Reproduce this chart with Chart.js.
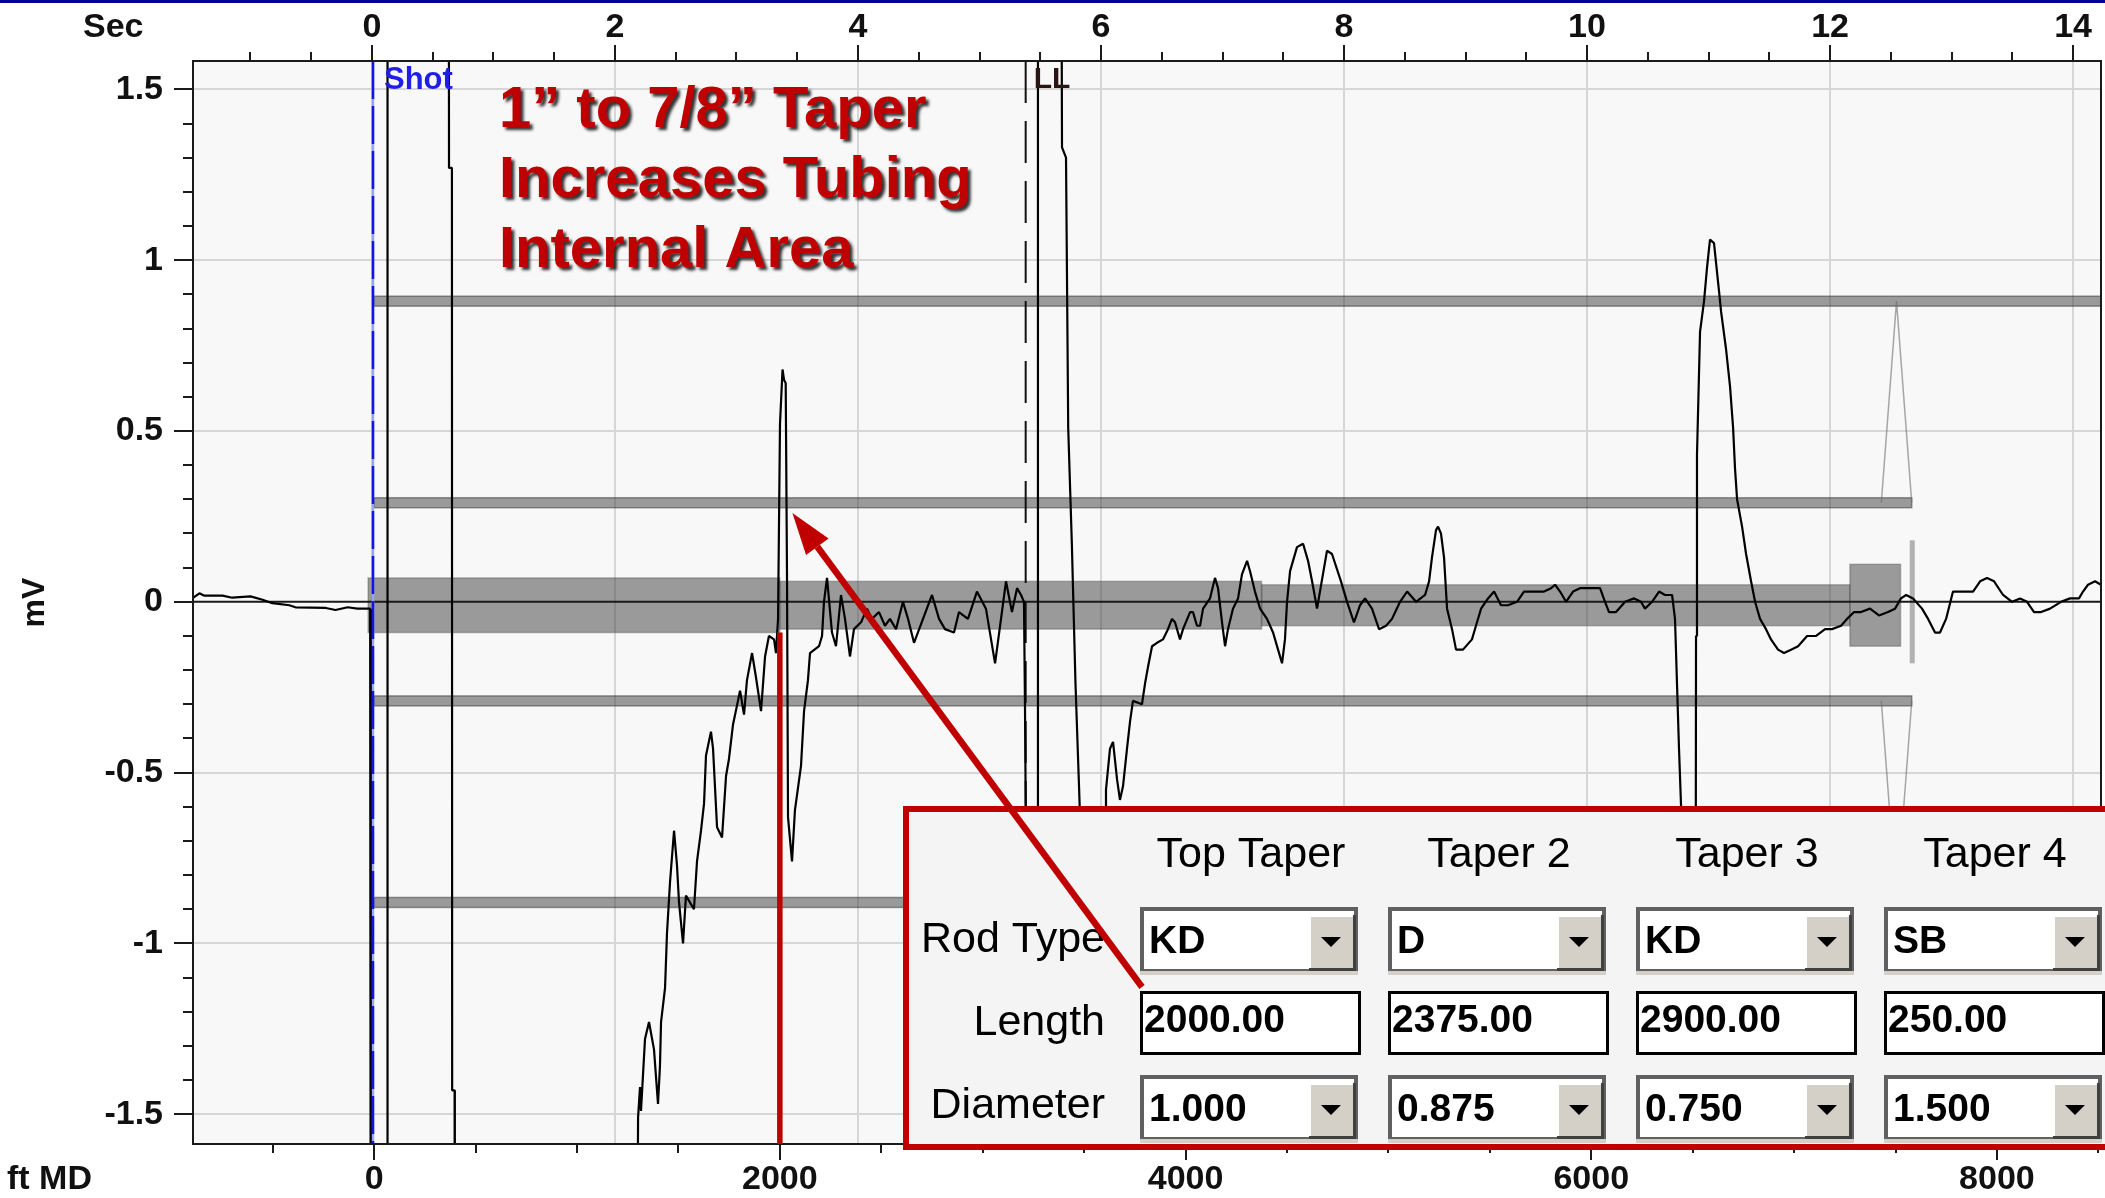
<!DOCTYPE html>
<html lang="en">
<head>
<meta charset="UTF-8">
<title>Acoustic Trace - Rod Taper</title>
<script src="https://cdn.jsdelivr.net/npm/chart.js"></script>
<style>
  html, body { margin: 0; padding: 0; background: #ffffff; }
  #wrap { width: 2105px; height: 1198px; }
</style>
</head>
<body>
<div id="wrap"><canvas id="myChart" width="2105" height="1198"></canvas></div>
<script>
// acoustic trace: time after shot (s) and receiver signal (mV)
const timeSec = [
  -1.47, -1.42, -1.38, -1.23, -1.15, -1.0, -0.9, -0.82, -0.68, -0.63, -0.38, -0.3, -0.2, -0.12, -0.03, -0.015, -0.01,
  0.125, 0.128, 0.632, 0.634, 0.658, 0.66, 0.68, 0.682, 2.18,
  2.19, 2.206, 2.214, 2.247, 2.28, 2.321, 2.354, 2.37, 2.379, 2.412, 2.428, 2.453, 2.486, 2.51, 2.527, 2.56, 2.584,
  2.65, 2.675, 2.708, 2.733, 2.749, 2.79, 2.807, 2.84, 2.881, 2.914, 2.938, 2.971, 3.012, 3.029, 3.062, 3.086,
  3.128, 3.16, 3.202, 3.235, 3.267, 3.309, 3.325, 3.342, 3.358, 3.379, 3.391, 3.405, 3.416, 3.424, 3.457, 3.481,
  3.531, 3.556, 3.588, 3.605, 3.679, 3.704, 3.72, 3.745, 3.786, 3.819, 3.86, 3.893, 3.934, 3.967, 4.025, 4.074,
  4.115, 4.173, 4.222, 4.263, 4.313, 4.37, 4.412, 4.461, 4.535, 4.609, 4.667, 4.716, 4.79, 4.831, 4.905, 4.979,
  5.053, 5.128, 5.177, 5.218, 5.267, 5.309, 5.342, 5.366, 5.374, 5.383, 5.39,
  5.476, 5.481, 5.672, 5.679, 5.712, 5.73, 5.76, 5.79, 5.82, 5.86, 5.95, 6.02,
  6.033, 6.041, 6.074, 6.099, 6.132, 6.156, 6.181, 6.214, 6.239, 6.263, 6.337, 6.362, 6.387, 6.42, 6.461, 6.51,
  6.551, 6.584, 6.609, 6.65, 6.675, 6.733, 6.757, 6.79, 6.815, 6.84, 6.897, 6.938, 6.963, 6.996, 7.021, 7.045,
  7.086, 7.128, 7.16, 7.202, 7.226, 7.267, 7.309, 7.366, 7.416, 7.457, 7.49, 7.514, 7.531, 7.556, 7.613, 7.663,
  7.704, 7.737, 7.778, 7.802, 7.86, 7.901, 7.975, 8.025, 8.082, 8.132, 8.173, 8.23, 8.288, 8.346, 8.395, 8.461,
  8.519, 8.593, 8.667, 8.7, 8.724, 8.757, 8.774, 8.798, 8.823, 8.848, 8.889, 8.922, 8.979, 9.053, 9.086, 9.128,
  9.185, 9.235, 9.292, 9.35, 9.424, 9.481, 9.556, 9.605, 9.646, 9.704, 9.737, 9.778, 9.827, 9.885, 9.942, 10.016,
  10.107, 10.148, 10.181, 10.239, 10.313, 10.387, 10.444, 10.477, 10.535, 10.593, 10.642, 10.7, 10.724, 10.757,
  10.774, 10.78, 10.89, 10.897, 10.905, 10.93, 10.963, 10.988, 11.012, 11.045, 11.086, 11.103, 11.144, 11.177,
  11.202, 11.218, 11.235, 11.276, 11.309, 11.35, 11.383, 11.424, 11.473, 11.514, 11.572, 11.621, 11.679, 11.737,
  11.811, 11.885, 11.959, 12.016, 12.091, 12.14, 12.198, 12.255, 12.329, 12.403, 12.477, 12.535, 12.584, 12.626,
  12.683, 12.757, 12.807, 12.864, 12.905, 12.955, 13.012, 13.07, 13.128, 13.177, 13.235, 13.292, 13.35, 13.424,
  13.498, 13.564, 13.621, 13.679, 13.737, 13.811, 13.901, 13.975, 14.049, 14.082, 14.123, 14.181, 14.23
];
const signalMv = [
  0.012, 0.025, 0.018, 0.018, 0.012, 0.016, 0.006, -0.004, -0.01, -0.016, -0.018, -0.024, -0.016, -0.02, -0.02, -0.02, -2.2,
  -2.2, 2.2, 2.2, 1.27, 1.27, -1.43, -1.43, -2.2, -2.2,
  -1.51, -1.42, -1.49, -1.28, -1.23, -1.31, -1.47, -1.36, -1.23, -1.13, -0.97, -0.82, -0.67, -0.77, -0.88, -1.0, -0.86,
  -0.9, -0.76, -0.67, -0.59, -0.45, -0.38, -0.43, -0.66, -0.69, -0.51, -0.46, -0.36, -0.29, -0.26, -0.33, -0.23,
  -0.15, -0.22, -0.32, -0.16, -0.1, -0.11, -0.15, -0.05, 0.52, 0.68, 0.65, 0.64, 0.06, -0.63, -0.76, -0.61,
  -0.48, -0.32, -0.23, -0.15, -0.13, -0.1, 0.0, 0.07, -0.09, -0.13, 0.02, -0.05, -0.16, -0.08, -0.06, -0.02,
  -0.05, -0.03, -0.07, -0.05, -0.08, 0.0, -0.05, -0.12, -0.05, 0.02, -0.05, -0.08, -0.09, -0.03, -0.05, 0.03,
  -0.02, -0.18, -0.05, 0.06, -0.03, 0.04, 0.02, 0.0, -0.29, -0.73, -2.2,
  -2.2, 2.2, 2.2, 1.33, 1.3, 0.51, 0.17, -0.24, -0.55, -1.0, -1.2, -0.7,
  -0.6, -0.55, -0.43, -0.41, -0.52, -0.58, -0.54, -0.43, -0.35, -0.29, -0.3, -0.24, -0.19, -0.13, -0.12, -0.11,
  -0.08, -0.05, -0.06, -0.11, -0.08, -0.03, -0.03, -0.07, -0.07, -0.02, 0.01, 0.07, 0.04, -0.06, -0.13, -0.08,
  -0.02, 0.01, 0.08, 0.12, 0.09, 0.03, -0.02, -0.05, -0.09, -0.14, -0.18, -0.11, 0.0, 0.09, 0.16, 0.17,
  0.12, 0.06, -0.02, 0.03, 0.15, 0.14, 0.06, 0.0, -0.06, -0.01, 0.01, -0.02, -0.08, -0.07, -0.05, 0.0,
  0.03, 0.0, 0.02, 0.06, 0.13, 0.21, 0.22, 0.2, 0.13, -0.02, -0.08, -0.14, -0.14, -0.11, -0.07, -0.02,
  0.01, 0.03, -0.01, -0.01, 0.0, 0.03, 0.03, 0.03, 0.03, 0.04, 0.05, 0.03, 0.0, 0.03, 0.04, 0.04,
  0.04, 0.0, -0.03, -0.03, 0.0, 0.01, 0.0, -0.02, 0.0, 0.03, 0.02, 0.02, -0.05, -0.43,
  -0.6, -2.2, -2.2, -0.1, 0.43, 0.79, 0.88, 0.98, 1.06, 1.05, 0.91, 0.85, 0.74, 0.63,
  0.51, 0.39, 0.3, 0.22, 0.14, 0.06, 0.0, -0.05, -0.08, -0.11, -0.14, -0.15, -0.14, -0.13,
  -0.1, -0.1, -0.08, -0.08, -0.07, -0.05, -0.03, -0.03, -0.02, -0.04, -0.03, -0.02, 0.01, 0.02,
  0.01, -0.02, -0.05, -0.09, -0.09, -0.05, 0.03, 0.03, 0.03, 0.03, 0.06, 0.07, 0.06, 0.02,
  0.0, 0.01, 0.0, -0.03, -0.03, -0.02, 0.0, 0.01, 0.01, 0.03, 0.05, 0.06, 0.05
];

// tick labels on each axis
const secLabels = [0, 2, 4, 6, 8, 10, 12, 14];
const ftLabels = [0, 2000, 4000, 6000, 8000];
const mvLabels = [-1.5, -1, -0.5, 0, 0.5, 1, 1.5];

// rod string design
const taperNames = ['Top Taper', 'Taper 2', 'Taper 3', 'Taper 4'];
const rodTypes = ['KD', 'D', 'KD', 'SB'];
const taperLengthFt = [2000, 2375, 2900, 250];
const taperDiameterIn = [1.000, 0.875, 0.750, 1.500];

// markers
const shotSec = 0;
const liquidLevelSec = 5.38;
const tubingEndFt = 7580;
const spikeSec = 3.46;
const spikeMv = 0.26;

const noteLines = ['1\u201D to 7/8\u201D Taper', 'Increases Tubing', 'Internal Area'];

// well sketch drawn behind the trace (in mV units of the y axis)
const rodCenterMv = -0.01;
const mvPerInch = 0.08;
const tubingMv = 0.29;
const casingMv = 0.88;

const FAMILY = '"Liberation Sans", Arial, sans-serif';
const AXIS_FONT = { family: FAMILY, size: 34, weight: 'bold' };

function onList(v, list) {
    return list.some(function (l) { return Math.abs(l - v) < 1e-6; });
}

function gridColor(list, skipZero) {
    return function (c) {
        if (!c.tick) return 'rgba(0,0,0,0)';
        if (skipZero && Math.abs(c.tick.value) < 1e-9) return 'rgba(0,0,0,0)';
        return onList(c.tick.value, list) ? '#d6d6d6' : 'rgba(0,0,0,0)';
    };
}

// keep the plot box where it is: no extra room for edge labels
function noPadding(s) {
    s.paddingLeft = 0;
    s.paddingRight = 0;
    s.paddingTop = 0;
    s.paddingBottom = 0;
}

// ticks on round multiples of the step, whatever min/max are
function roundTicks(step) {
    return function (s) {
        const t = [];
        for (let v = Math.ceil(s.min / step) * step; v <= s.max + 1e-9; v += step) {
            t.push({ value: Math.round(v * 1000) / 1000 });
        }
        s.ticks = t;
    };
}

function thinBar(ctx, x0, x1, yc) {
    ctx.fillStyle = 'rgba(60,60,60,0.5)';
    ctx.fillRect(x0, yc - 5, x1 - x0, 10);
    ctx.strokeStyle = 'rgba(40,40,40,0.45)';
    ctx.lineWidth = 1.5;
    ctx.strokeRect(x0, yc - 5, x1 - x0, 10);
}

function drawWell(chart) {
    const ctx = chart.ctx, a = chart.chartArea;
    const ft = chart.scales.ft, y = chart.scales.y;
    ctx.save();
    ctx.beginPath();
    ctx.rect(a.left, a.top, a.right - a.left, a.bottom - a.top);
    ctx.clip();

    // casing and tubing walls
    const x0 = ft.getPixelForValue(0);
    const xTub = ft.getPixelForValue(tubingEndFt);
    thinBar(ctx, x0, a.right + 5, y.getPixelForValue(casingMv));
    thinBar(ctx, x0, a.right + 5, y.getPixelForValue(-casingMv));
    thinBar(ctx, x0, xTub, y.getPixelForValue(tubingMv));
    thinBar(ctx, x0, xTub, y.getPixelForValue(-tubingMv));

    // anchor sketch at the bottom of the tubing
    const xa = ft.getPixelForValue(tubingEndFt - 150);
    const xm = ft.getPixelForValue(tubingEndFt - 75);
    ctx.strokeStyle = 'rgba(110,110,110,0.6)';
    ctx.lineWidth = 1.5;
    [1, -1].forEach(function (s) {
        ctx.beginPath();
        ctx.moveTo(xa, y.getPixelForValue(s * tubingMv));
        ctx.lineTo(xm, y.getPixelForValue(s * casingMv));
        ctx.lineTo(xTub, y.getPixelForValue(s * tubingMv));
        ctx.stroke();
    });

    // rod string, one band per taper
    let depth = 0;
    for (let i = 0; i < taperLengthFt.length; i++) {
        const start = i === 0 ? -30 : depth;
        const end = depth + taperLengthFt[i];
        const half = taperDiameterIn[i] * mvPerInch;
        const xs = ft.getPixelForValue(start), xe = ft.getPixelForValue(end);
        const yt = y.getPixelForValue(rodCenterMv + half), yb = y.getPixelForValue(rodCenterMv - half);
        ctx.fillStyle = 'rgba(60,60,60,0.5)';
        ctx.fillRect(xs, yt, xe - xs, yb - yt);
        ctx.strokeStyle = 'rgba(60,60,60,0.3)';
        ctx.lineWidth = 1.5;
        ctx.strokeRect(xs, yt, xe - xs, yb - yt);
        depth = end;
    }

    // pump at the tubing end
    ctx.fillStyle = 'rgba(70,70,70,0.4)';
    ctx.fillRect(xTub - 2, y.getPixelForValue(0.18), 5, y.getPixelForValue(-0.18) - y.getPixelForValue(0.18));

    // zero line
    ctx.strokeStyle = '#1a1a1a';
    ctx.lineWidth = 2;
    ctx.beginPath();
    ctx.moveTo(a.left, y.getPixelForValue(0));
    ctx.lineTo(a.right, y.getPixelForValue(0));
    ctx.stroke();

    // shot and liquid level markers
    const sec = chart.scales.sec;
    const xs = sec.getPixelForValue(shotSec) + 1;
    ctx.strokeStyle = '#9aa6f0';
    ctx.lineWidth = 2.5;
    ctx.beginPath();
    ctx.moveTo(xs, a.top);
    ctx.lineTo(xs, a.bottom);
    ctx.stroke();
    ctx.setLineDash([38, 7]);
    ctx.strokeStyle = '#1414e0';
    ctx.beginPath();
    ctx.moveTo(xs, a.top);
    ctx.lineTo(xs, a.bottom);
    ctx.stroke();
    ctx.setLineDash([42, 18]);
    ctx.strokeStyle = '#111111';
    ctx.lineWidth = 2;
    ctx.beginPath();
    ctx.moveTo(sec.getPixelForValue(liquidLevelSec), a.top);
    ctx.lineTo(sec.getPixelForValue(liquidLevelSec), a.bottom);
    ctx.stroke();
    ctx.setLineDash([]);
    ctx.restore();
}

function drawTicks(chart) {
    const ctx = chart.ctx, a = chart.chartArea;
    const sec = chart.scales.sec, ft = chart.scales.ft, y = chart.scales.y;
    ctx.save();
    ctx.strokeStyle = '#1a1a1a';
    ctx.lineWidth = 2;
    ctx.beginPath();
    sec.ticks.forEach(function (t) {
        const x = Math.round(sec.getPixelForValue(t.value));
        ctx.moveTo(x, a.top);
        ctx.lineTo(x, a.top - (onList(t.value, secLabels) ? 16 : 9));
    });
    ft.ticks.forEach(function (t) {
        const x = Math.round(ft.getPixelForValue(t.value));
        ctx.moveTo(x, a.bottom);
        ctx.lineTo(x, a.bottom + (onList(t.value, ftLabels) ? 16 : 9));
    });
    y.ticks.forEach(function (t) {
        const yy = Math.round(y.getPixelForValue(t.value));
        ctx.moveTo(a.left, yy);
        ctx.lineTo(a.left - (onList(t.value, mvLabels) ? 19 : 10), yy);
    });
    ctx.stroke();
    // plot frame
    ctx.strokeRect(a.left, a.top, a.right - a.left, a.bottom - a.top);

    ctx.fillStyle = '#111111';
    ctx.font = 'bold 34px ' + FAMILY;
    ctx.textBaseline = 'middle';
    ctx.textAlign = 'left';
    ctx.fillText('Sec', 83, 28);
    ctx.fillText('ft MD', 7, 1180);

    ctx.font = 'bold 31px ' + FAMILY;
    ctx.fillStyle = '#1e1ee6';
    ctx.fillText('Shot', sec.getPixelForValue(shotSec) + 12, 80);
    ctx.font = 'bold 30px ' + FAMILY;
    ctx.fillStyle = '#2a1515';
    ctx.fillText('LL', sec.getPixelForValue(liquidLevelSec) + 8, 80);
    ctx.restore();
}

function drawNote(chart) {
    const ctx = chart.ctx, ft = chart.scales.ft, y = chart.scales.y, a = chart.chartArea;
    ctx.save();
    // taper change depth
    const xr = ft.getPixelForValue(taperLengthFt[0]);
    ctx.strokeStyle = '#c00000';
    ctx.lineWidth = 5.5;
    ctx.beginPath();
    ctx.moveTo(xr, y.getPixelForValue(rodCenterMv - taperDiameterIn[0] * mvPerInch));
    ctx.lineTo(xr, a.bottom);
    ctx.stroke();

    ctx.font = 'bold 58px ' + FAMILY;
    ctx.fillStyle = '#c00000';
    ctx.textAlign = 'left';
    ctx.textBaseline = 'alphabetic';
    ctx.shadowColor = 'rgba(0,0,0,0.8)';
    ctx.shadowOffsetX = 3;
    ctx.shadowOffsetY = 3;
    ctx.shadowBlur = 3;
    noteLines.forEach(function (t, i) { ctx.fillText(t, 499, 127 + i * 70); });
    ctx.restore();
}

function comboBox(ctx, x, y, text) {
    const w = 218, h = 68;
    ctx.fillStyle = '#d4d0c8';
    ctx.fillRect(x, y, w, h);
    ctx.fillStyle = '#606060';
    ctx.fillRect(x, y, w, h - 4);
    ctx.fillStyle = '#ffffff';
    ctx.fillRect(x + 4, y + 4, w - 8, h - 10);
    // drop-down button
    const bx = x + 169, by = y + 8, bw = 47, bh = 56;
    ctx.fillStyle = '#404040';
    ctx.fillRect(bx, by, bw, bh);
    ctx.fillStyle = '#ffffff';
    ctx.fillRect(bx, by, bw - 3, bh - 3);
    ctx.fillStyle = '#d4d0c8';
    ctx.fillRect(bx + 2, by + 2, bw - 5, bh - 5);
    ctx.fillStyle = '#000000';
    ctx.beginPath();
    ctx.moveTo(bx + 12, y + 30);
    ctx.lineTo(bx + 32, y + 30);
    ctx.lineTo(bx + 22, y + 40);
    ctx.closePath();
    ctx.fill();
    ctx.font = 'bold 39px ' + FAMILY;
    ctx.textAlign = 'left';
    ctx.fillText(text, x + 9, y + 46);
}

function textBox(ctx, x, y, text) {
    ctx.fillStyle = '#ffffff';
    ctx.fillRect(x, y, 221, 64);
    ctx.strokeStyle = '#000000';
    ctx.lineWidth = 3;
    ctx.strokeRect(x + 1.5, y + 1.5, 218, 61);
    ctx.fillStyle = '#000000';
    ctx.font = 'bold 39px ' + FAMILY;
    ctx.textAlign = 'left';
    ctx.fillText(text, x + 4, y + 41);
}

function drawTable(chart) {
    const ctx = chart.ctx;
    const left = 903, top = 806, bottom = 1150, right = chart.width + 10;
    ctx.save();
    ctx.fillStyle = '#f4f4f4';
    ctx.fillRect(left, top, right - left, bottom - top);
    ctx.strokeStyle = '#c00000';
    ctx.lineWidth = 6;
    ctx.strokeRect(left + 3, top + 3, right - left, bottom - top - 6);

    ctx.fillStyle = '#000000';
    ctx.textBaseline = 'alphabetic';
    ctx.font = '43px ' + FAMILY;
    ctx.textAlign = 'right';
    ctx.fillText('Rod Type', 1105, 952);
    ctx.fillText('Length', 1105, 1035);
    ctx.fillText('Diameter', 1105, 1118);

    for (let i = 0; i < taperNames.length; i++) {
        const cx = 1140 + i * 248;
        ctx.fillStyle = '#000000';
        ctx.font = '43px ' + FAMILY;
        ctx.textAlign = 'center';
        ctx.fillText(taperNames[i], cx + 111, 867);
        comboBox(ctx, cx, 907, rodTypes[i]);
        textBox(ctx, cx, 991, taperLengthFt[i].toFixed(2));
        comboBox(ctx, cx, 1075, taperDiameterIn[i].toFixed(3));
    }
    ctx.restore();
}

function drawArrow(chart) {
    const ctx = chart.ctx;
    const x1 = chart.scales.sec.getPixelForValue(spikeSec);
    const y1 = chart.scales.y.getPixelForValue(spikeMv);
    const x0 = 1142, y0 = 987;
    const ang = Math.atan2(y1 - y0, x1 - x0);
    const headLen = 42, headHalf = 14;
    const bx = x1 - headLen * Math.cos(ang), by = y1 - headLen * Math.sin(ang);
    ctx.save();
    ctx.strokeStyle = '#c00000';
    ctx.fillStyle = '#c00000';
    ctx.lineWidth = 6.5;
    ctx.beginPath();
    ctx.moveTo(x0, y0);
    ctx.lineTo(bx, by);
    ctx.stroke();
    ctx.beginPath();
    ctx.moveTo(x1, y1);
    ctx.lineTo(bx + headHalf * Math.sin(ang), by - headHalf * Math.cos(ang));
    ctx.lineTo(bx - headHalf * Math.sin(ang), by + headHalf * Math.cos(ang));
    ctx.closePath();
    ctx.fill();
    ctx.restore();
}

const traceDecor = {
    id: 'traceDecor',
    beforeDraw: function (chart) {
        const ctx = chart.ctx, a = chart.chartArea;
        ctx.save();
        ctx.fillStyle = '#ffffff';
        ctx.fillRect(0, 0, chart.width, chart.height);
        ctx.fillStyle = '#f8f8f8';
        ctx.fillRect(a.left, a.top, a.right - a.left, a.bottom - a.top);
        ctx.fillStyle = '#00009a';
        ctx.fillRect(0, 0, chart.width, 3);
        ctx.restore();
    },
    beforeDatasetsDraw: function (chart) {
        drawWell(chart);
    },
    afterDatasetsDraw: function (chart) {
        drawTicks(chart);
        drawNote(chart);
        drawTable(chart);
        drawArrow(chart);
    }
};

const points = timeSec.map(function (t, i) { return { x: t, y: signalMv[i] }; });

const myChart = new Chart(document.getElementById('myChart'), {
    type: 'line',
    data: {
        datasets: [{
            label: 'mV',
            data: points,
            xAxisID: 'sec',
            yAxisID: 'y',
            borderColor: '#000000',
            borderWidth: 2.2,
            borderJoinStyle: 'bevel',
            pointRadius: 0,
            tension: 0,
            fill: false
        }]
    },
    options: {
        responsive: false,
        animation: false,
        devicePixelRatio: 1,
        layout: { padding: { left: 0, right: 4, top: 0, bottom: 0 } },
        plugins: { legend: { display: false }, tooltip: { enabled: false } },
        scales: {
            sec: {
                type: 'linear', axis: 'x', position: 'top', min: -1.473, max: 14.23,
                afterBuildTicks: roundTicks(0.5),
                afterFit: function (s) { s.height = 61; noPadding(s); },
                border: { display: false },
                grid: { color: gridColor(secLabels), lineWidth: 2, drawTicks: false },
                ticks: {
                    autoSkip: false, maxRotation: 0,
                    padding: 13, color: '#111111', font: AXIS_FONT,
                    callback: function (v) { return onList(v, secLabels) ? String(v) : ''; }
                }
            },
            ft: {
                type: 'linear', axis: 'x', position: 'bottom', min: -893, max: 8513,
                afterBuildTicks: roundTicks(500),
                afterFit: function (s) { s.height = 54; noPadding(s); },
                border: { display: false },
                grid: { display: false, drawTicks: false },
                ticks: {
                    autoSkip: false, maxRotation: 0,
                    padding: 15, color: '#111111', font: AXIS_FONT,
                    callback: function (v) { return onList(v, ftLabels) ? String(v) : ''; }
                }
            },
            y: {
                type: 'linear', position: 'left', min: -1.587, max: 1.583,
                afterBuildTicks: roundTicks(0.1),
                afterFit: function (s) { s.width = 193; noPadding(s); },
                border: { display: false },
                grid: { color: gridColor(mvLabels, true), lineWidth: 2, drawTicks: false },
                ticks: {
                    autoSkip: false,
                    padding: 30, color: '#111111', font: AXIS_FONT,
                    callback: function (v) { return onList(v, mvLabels) ? String(Math.round(v * 10) / 10) : ''; }
                },
                title: {
                    display: true, text: 'mV', color: '#111111',
                    font: { family: FAMILY, size: 32, weight: 'bold' },
                    padding: { top: 16, bottom: 0 }
                }
            }
        }
    },
    plugins: [traceDecor]
});
</script>
</body>
</html>
